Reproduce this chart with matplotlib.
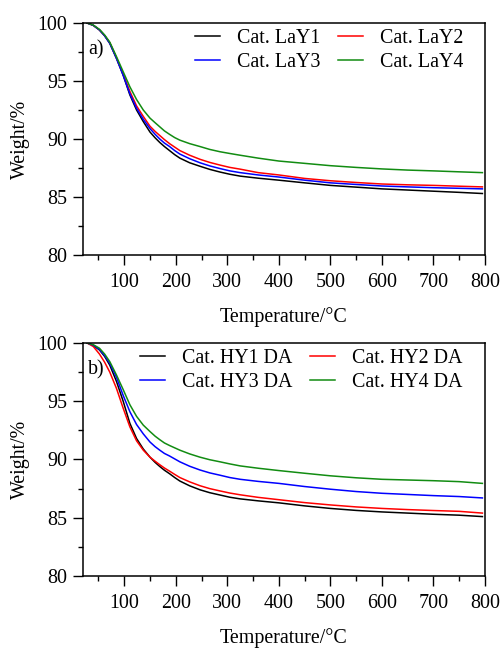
import numpy as np
import matplotlib
matplotlib.use('Agg')
import matplotlib.pyplot as plt
from matplotlib.ticker import MultipleLocator

plt.rcParams['font.family'] = ['Liberation Serif', 'DejaVu Serif']
plt.rcParams['font.size'] = 14.4

temp = [28, 40, 52, 62, 72, 85, 98, 111, 124, 137, 150, 160, 169, 178, 188, 198, 208,
        227, 247, 266, 286, 305, 325, 360, 400, 450, 500, 550, 600, 650, 700, 750, 795]

# panel a) - LaY catalysts, weight %
lay1 = [100, 99.8, 99.4, 98.9, 98.25, 96.95, 95.5, 93.8, 92.5, 91.5, 90.6, 90.1, 89.7, 89.35, 89.0, 88.65, 88.35,
        87.95, 87.65, 87.38, 87.15, 86.96, 86.8, 86.62, 86.45, 86.22, 86.0, 85.85, 85.7, 85.6, 85.5, 85.4, 85.3]
lay2 = [100, 99.8, 99.4, 98.92, 98.3, 97.0, 95.6, 94.1, 92.85, 91.95, 91.1, 90.65, 90.3, 89.95, 89.6, 89.3, 89.0,
        88.6, 88.25, 87.98, 87.75, 87.55, 87.4, 87.1, 86.9, 86.6, 86.4, 86.25, 86.12, 86.05, 86.0, 85.93, 85.87]
lay3 = [100, 99.8, 99.4, 98.9, 98.25, 96.95, 95.5, 93.9, 92.65, 91.7, 90.9, 90.4, 90.0, 89.65, 89.35, 89.0, 88.7,
        88.3, 87.95, 87.68, 87.45, 87.25, 87.1, 86.9, 86.72, 86.45, 86.22, 86.08, 85.95, 85.87, 85.8, 85.75, 85.7]
lay4 = [100, 99.82, 99.45, 98.97, 98.35, 97.1, 95.8, 94.5, 93.4, 92.5, 91.8, 91.4, 91.05, 90.7, 90.4, 90.12, 89.9,
        89.6, 89.35, 89.1, 88.9, 88.75, 88.6, 88.35, 88.1, 87.9, 87.7, 87.55, 87.42, 87.32, 87.25, 87.17, 87.1]

# panel b) - HY DA catalysts, weight %
hy1 = [100, 99.8, 99.4, 98.85, 98.1, 96.7, 95.0, 93.1, 91.8, 90.9, 90.2, 89.75, 89.4, 89.08, 88.78, 88.45, 88.15,
       87.74, 87.4, 87.15, 86.95, 86.76, 86.62, 86.45, 86.28, 86.02, 85.8, 85.63, 85.5, 85.4, 85.3, 85.22, 85.1]
hy2 = [100, 99.7, 99.05, 98.35, 97.5, 96.1, 94.4, 92.8, 91.6, 90.8, 90.2, 89.85, 89.55, 89.27, 89.0, 88.72, 88.45,
       88.08, 87.75, 87.5, 87.3, 87.12, 86.97, 86.75, 86.55, 86.3, 86.1, 85.93, 85.8, 85.7, 85.62, 85.55, 85.4]
hy3 = [100, 99.82, 99.45, 98.92, 98.25, 97.05, 95.5, 94.1, 93.0, 92.2, 91.5, 91.1, 90.8, 90.52, 90.3, 90.05, 89.8,
       89.42, 89.1, 88.85, 88.65, 88.45, 88.3, 88.12, 87.95, 87.68, 87.45, 87.25, 87.1, 87.0, 86.9, 86.82, 86.7]
hy4 = [100, 99.85, 99.55, 99.05, 98.4, 97.25, 96.0, 94.7, 93.7, 92.95, 92.4, 92.0, 91.7, 91.42, 91.2, 91.0, 90.8,
       90.48, 90.2, 89.98, 89.8, 89.62, 89.45, 89.25, 89.05, 88.82, 88.6, 88.43, 88.3, 88.24, 88.18, 88.1, 87.95]

labels_a = ['Cat. LaY1', 'Cat. LaY2', 'Cat. LaY3', 'Cat. LaY4']
labels_b = ['Cat. HY1 DA', 'Cat. HY2 DA', 'Cat. HY3 DA', 'Cat. HY4 DA']
colors = ['black', '#ff0000', '#0000ff', '#128c12']

fig = plt.figure(figsize=(5.02, 6.48), dpi=100)
ax_a = fig.add_axes([0.1653, 0.6065, 0.8008, 0.3580])
ax_b = fig.add_axes([0.1653, 0.1111, 0.8008, 0.3596])

panels = [
    (ax_a, [lay1, lay2, lay3, lay4], labels_a, 'a)', 0.279),
    (ax_b, [hy1, hy2, hy3, hy4], labels_b, 'b)', 0.142),
]

for ax, series, labels, tag, leg_x in panels:
    lines = []
    for vals, lab, col in zip(series, labels, colors):
        ln, = ax.plot(temp, vals, color=col, lw=1.1, label=lab)
        lines.append(ln)
    ax.set_xlim(20, 800)
    ax.set_ylim(80, 100)
    ax.xaxis.set_minor_locator(MultipleLocator(50))
    ax.yaxis.set_major_locator(MultipleLocator(5))
    ax.yaxis.set_minor_locator(MultipleLocator(2.5))
    ax.set_xticks([100, 200, 300, 400, 500, 600, 700, 800])
    ax.tick_params(which='both', direction='out', top=False, right=False, width=1.0)
    ax.tick_params(which='major', length=7)
    ax.tick_params(which='minor', length=3.5)
    ax.tick_params(axis='x', pad=6)
    ax.tick_params(axis='y', pad=4.5)
    for sp in ax.spines.values():
        sp.set_linewidth(1.1)
    ax.set_xlabel('Temperature/°C', labelpad=10.5)
    ax.set_ylabel('Weight/%', labelpad=5.3)
    ax.text(0.013, 0.883, tag, transform=ax.transAxes, ha='left', va='center')
    # row-wise legend order: 1 2 / 3 4
    order = [0, 2, 1, 3]
    ax.legend([lines[i] for i in order], [labels[i] for i in order],
              loc='upper left', bbox_to_anchor=(leg_x, 0.975), ncol=2, frameon=False,
              borderpad=0, borderaxespad=0, handlelength=1.25, handletextpad=0.85,
              columnspacing=0.85, labelspacing=0.25)

fig.savefig('out.png', dpi=100)
